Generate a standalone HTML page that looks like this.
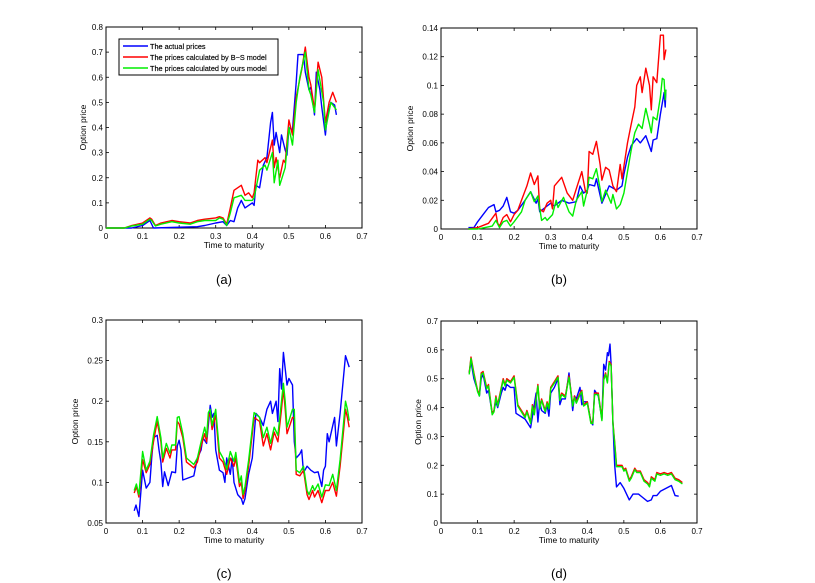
<!DOCTYPE html>
<html><head><meta charset="utf-8"><style>
body{margin:0;background:#fff;width:815px;height:583px;overflow:hidden}
svg{display:block}
text{font-family:"Liberation Sans",sans-serif}
</style></head><body>
<svg id="fig" width="815" height="583"></svg>
<script>
// ---- Panel (a) data ----
const aBlueT=[0,0.07,0.1,0.12,0.13,0.25,0.27,0.3,0.32,0.33,0.34,0.35,0.36,0.37,0.38,0.39,0.4,0.405,0.41,0.42,0.43,0.44,0.45,0.455,0.46,0.465,0.475,0.48,0.49,0.495,0.5,0.51,0.52,0.525,0.54,0.545,0.555,0.56,0.57,0.575,0.585,0.59,0.6,0.605,0.615,0.625,0.63];
const aBlueV=[0,0,0.01,0.03,0,0.005,0.01,0.02,0.025,0.01,0.03,0.025,0.08,0.11,0.08,0.09,0.1,0.09,0.17,0.16,0.25,0.28,0.42,0.46,0.33,0.38,0.3,0.37,0.31,0.29,0.4,0.39,0.58,0.69,0.69,0.62,0.55,0.56,0.45,0.62,0.55,0.48,0.37,0.45,0.5,0.49,0.45];
const aRedT=[0,0.05,0.07,0.1,0.12,0.125,0.135,0.15,0.18,0.2,0.23,0.25,0.27,0.3,0.31,0.32,0.33,0.34,0.35,0.37,0.38,0.39,0.4,0.405,0.415,0.42,0.435,0.44,0.45,0.455,0.46,0.465,0.475,0.485,0.49,0.5,0.51,0.52,0.535,0.545,0.555,0.56,0.57,0.58,0.59,0.6,0.61,0.62,0.63];
const aRedV=[0,0,0.01,0.02,0.04,0.035,0.01,0.02,0.03,0.025,0.02,0.03,0.035,0.04,0.045,0.04,0.015,0.08,0.15,0.17,0.13,0.14,0.12,0.14,0.27,0.26,0.28,0.26,0.32,0.35,0.24,0.28,0.2,0.27,0.26,0.43,0.37,0.52,0.63,0.72,0.6,0.57,0.47,0.66,0.6,0.42,0.5,0.54,0.5];
const aGreenT=[0,0.05,0.07,0.1,0.12,0.125,0.135,0.15,0.18,0.2,0.23,0.25,0.27,0.3,0.31,0.32,0.33,0.34,0.35,0.37,0.38,0.39,0.4,0.405,0.42,0.435,0.44,0.455,0.46,0.47,0.475,0.49,0.5,0.51,0.52,0.53,0.545,0.555,0.56,0.57,0.58,0.595,0.6,0.615,0.63];
const aGreenV=[0,0,0.008,0.015,0.035,0.03,0.008,0.015,0.025,0.02,0.015,0.025,0.03,0.03,0.04,0.035,0.01,0.06,0.12,0.13,0.11,0.11,0.11,0.12,0.23,0.25,0.23,0.3,0.18,0.27,0.17,0.24,0.4,0.33,0.5,0.6,0.7,0.55,0.53,0.46,0.63,0.5,0.39,0.5,0.47];
// ---- Panel (b) data ----
const bBlueT=[0.075,0.09,0.1,0.115,0.13,0.145,0.15,0.16,0.17,0.18,0.19,0.2,0.21,0.23,0.245,0.26,0.265,0.27,0.29,0.3,0.31,0.33,0.35,0.37,0.38,0.39,0.4,0.405,0.42,0.425,0.44,0.46,0.48,0.495,0.5,0.51,0.52,0.535,0.545,0.56,0.575,0.58,0.59,0.6,0.61,0.613,0.615];
const bBlueV=[0.001,0.001,0.005,0.01,0.015,0.017,0.012,0.013,0.016,0.022,0.012,0.011,0.013,0.02,0.026,0.018,0.021,0.012,0.016,0.018,0.016,0.02,0.018,0.019,0.03,0.025,0.027,0.031,0.03,0.035,0.018,0.03,0.027,0.03,0.038,0.05,0.058,0.063,0.06,0.065,0.054,0.062,0.063,0.08,0.095,0.085,0.097];
const bRedT=[0.075,0.1,0.12,0.13,0.15,0.155,0.16,0.17,0.18,0.19,0.2,0.21,0.22,0.235,0.245,0.255,0.265,0.27,0.28,0.29,0.3,0.305,0.31,0.33,0.345,0.36,0.37,0.385,0.395,0.4,0.405,0.415,0.425,0.435,0.44,0.45,0.46,0.47,0.48,0.49,0.495,0.51,0.52,0.53,0.535,0.545,0.55,0.56,0.57,0.575,0.58,0.59,0.6,0.608,0.61,0.615];
const bRedV=[0,0.001,0.003,0.004,0.011,0.004,0.002,0.008,0.01,0.005,0.01,0.013,0.02,0.03,0.039,0.031,0.037,0.014,0.012,0.018,0.02,0.014,0.03,0.036,0.025,0.02,0.028,0.04,0.026,0.025,0.054,0.052,0.061,0.045,0.034,0.043,0.041,0.03,0.026,0.045,0.035,0.06,0.073,0.085,0.1,0.106,0.095,0.112,0.1,0.083,0.106,0.102,0.135,0.135,0.118,0.125];
const bGreenT=[0.075,0.1,0.12,0.14,0.15,0.16,0.17,0.18,0.19,0.2,0.22,0.23,0.245,0.255,0.265,0.275,0.285,0.29,0.305,0.315,0.32,0.335,0.35,0.36,0.37,0.385,0.39,0.4,0.405,0.415,0.425,0.435,0.44,0.45,0.465,0.47,0.48,0.49,0.5,0.51,0.52,0.53,0.54,0.55,0.56,0.57,0.575,0.58,0.59,0.6,0.605,0.61,0.613,0.615];
const bGreenV=[0,0,0.001,0.002,0.006,0.001,0.005,0.006,0.002,0.005,0.012,0.02,0.026,0.019,0.023,0.006,0.008,0.006,0.01,0.02,0.015,0.022,0.012,0.009,0.02,0.026,0.016,0.027,0.036,0.035,0.042,0.028,0.019,0.027,0.018,0.024,0.014,0.017,0.025,0.04,0.055,0.067,0.073,0.07,0.084,0.073,0.067,0.078,0.076,0.092,0.105,0.104,0.09,0.097];
// ---- Panel (c) data ----
const cBlueT=[0.077,0.082,0.09,0.1,0.11,0.12,0.125,0.13,0.14,0.145,0.15,0.155,0.16,0.17,0.18,0.19,0.195,0.2,0.205,0.21,0.24,0.25,0.26,0.265,0.275,0.285,0.29,0.295,0.3,0.31,0.32,0.325,0.33,0.34,0.345,0.35,0.36,0.37,0.375,0.38,0.39,0.4,0.41,0.42,0.43,0.44,0.45,0.455,0.465,0.47,0.475,0.48,0.485,0.49,0.495,0.5,0.51,0.515,0.52,0.53,0.535,0.54,0.55,0.56,0.57,0.58,0.59,0.595,0.6,0.605,0.61,0.625,0.63,0.64,0.655,0.665];
const cBlueV=[0.065,0.072,0.058,0.115,0.093,0.1,0.13,0.155,0.158,0.14,0.125,0.095,0.113,0.096,0.113,0.112,0.145,0.152,0.14,0.103,0.108,0.13,0.14,0.155,0.148,0.195,0.18,0.185,0.14,0.115,0.112,0.1,0.13,0.11,0.13,0.1,0.085,0.08,0.073,0.08,0.11,0.13,0.185,0.18,0.17,0.19,0.2,0.185,0.2,0.175,0.24,0.215,0.26,0.24,0.22,0.228,0.22,0.15,0.13,0.135,0.14,0.112,0.12,0.115,0.112,0.113,0.095,0.115,0.12,0.16,0.15,0.18,0.145,0.185,0.256,0.242];
const cRedT=[0.077,0.083,0.09,0.1,0.11,0.12,0.13,0.14,0.15,0.155,0.165,0.175,0.18,0.19,0.195,0.2,0.21,0.22,0.24,0.25,0.26,0.27,0.275,0.28,0.285,0.29,0.3,0.31,0.32,0.33,0.34,0.35,0.355,0.365,0.37,0.375,0.38,0.39,0.405,0.42,0.43,0.44,0.45,0.46,0.47,0.48,0.485,0.49,0.495,0.51,0.515,0.52,0.53,0.54,0.55,0.555,0.565,0.57,0.58,0.59,0.6,0.61,0.62,0.63,0.64,0.65,0.655,0.66,0.665];
const cRedV=[0.087,0.095,0.082,0.128,0.112,0.122,0.15,0.175,0.15,0.125,0.142,0.13,0.14,0.14,0.175,0.172,0.155,0.125,0.118,0.125,0.145,0.16,0.15,0.18,0.185,0.165,0.183,0.13,0.125,0.11,0.13,0.12,0.13,0.095,0.1,0.08,0.09,0.12,0.18,0.175,0.145,0.16,0.14,0.162,0.15,0.19,0.215,0.19,0.16,0.18,0.18,0.11,0.108,0.115,0.085,0.079,0.09,0.082,0.09,0.075,0.09,0.09,0.1,0.083,0.12,0.165,0.19,0.18,0.168];
const cGreenT=cRedT;
const cGreenV=[0.09,0.098,0.085,0.138,0.115,0.126,0.158,0.181,0.155,0.13,0.148,0.136,0.146,0.146,0.18,0.181,0.16,0.13,0.122,0.13,0.15,0.168,0.156,0.186,0.19,0.17,0.19,0.138,0.13,0.116,0.138,0.126,0.137,0.1,0.108,0.085,0.095,0.127,0.186,0.18,0.155,0.168,0.148,0.168,0.158,0.2,0.222,0.2,0.168,0.19,0.19,0.115,0.112,0.12,0.09,0.085,0.096,0.09,0.098,0.082,0.097,0.096,0.11,0.09,0.128,0.175,0.2,0.19,0.176];
// ---- Panel (d) data ----
const dRedT=[0.077,0.082,0.09,0.095,0.1,0.105,0.11,0.115,0.125,0.13,0.14,0.145,0.15,0.155,0.165,0.17,0.175,0.18,0.19,0.2,0.21,0.23,0.235,0.245,0.25,0.255,0.265,0.27,0.275,0.285,0.29,0.295,0.3,0.31,0.32,0.325,0.33,0.34,0.35,0.36,0.365,0.37,0.38,0.385,0.39,0.4,0.41,0.415,0.42,0.43,0.44,0.445,0.45,0.455,0.46,0.465,0.47,0.475,0.48,0.49,0.495,0.5,0.505,0.515,0.52,0.53,0.535,0.545,0.555,0.565,0.57,0.575,0.585,0.59,0.6,0.61,0.62,0.63,0.64,0.65,0.66];
const dRedV=[0.52,0.575,0.52,0.49,0.46,0.445,0.52,0.525,0.47,0.48,0.38,0.39,0.44,0.41,0.47,0.5,0.48,0.5,0.49,0.51,0.41,0.37,0.39,0.35,0.41,0.38,0.48,0.4,0.43,0.39,0.42,0.4,0.47,0.49,0.51,0.43,0.45,0.44,0.51,0.41,0.44,0.42,0.45,0.46,0.41,0.42,0.35,0.35,0.45,0.45,0.36,0.5,0.52,0.49,0.56,0.55,0.35,0.28,0.2,0.2,0.2,0.185,0.19,0.15,0.16,0.19,0.18,0.18,0.15,0.14,0.13,0.16,0.15,0.175,0.17,0.175,0.17,0.175,0.155,0.15,0.14];
const dGreenT=dRedT;
const dGreenV=[0.515,0.57,0.515,0.485,0.455,0.44,0.515,0.52,0.465,0.475,0.375,0.385,0.435,0.405,0.465,0.495,0.475,0.495,0.485,0.505,0.405,0.365,0.385,0.345,0.405,0.375,0.475,0.395,0.425,0.385,0.415,0.395,0.465,0.485,0.505,0.425,0.445,0.435,0.505,0.405,0.435,0.415,0.445,0.455,0.405,0.415,0.345,0.345,0.445,0.445,0.355,0.495,0.515,0.485,0.555,0.545,0.345,0.275,0.195,0.195,0.195,0.18,0.185,0.145,0.155,0.185,0.175,0.175,0.145,0.135,0.125,0.155,0.145,0.17,0.165,0.17,0.165,0.17,0.15,0.145,0.135];
const dBlueT=[0.077,0.082,0.09,0.095,0.1,0.105,0.11,0.115,0.125,0.13,0.14,0.145,0.15,0.155,0.165,0.17,0.175,0.18,0.19,0.2,0.205,0.23,0.245,0.26,0.265,0.27,0.275,0.285,0.29,0.295,0.3,0.31,0.32,0.325,0.33,0.34,0.35,0.36,0.365,0.37,0.38,0.385,0.39,0.4,0.41,0.415,0.42,0.43,0.44,0.445,0.45,0.455,0.458,0.462,0.465,0.47,0.475,0.48,0.49,0.5,0.515,0.525,0.54,0.55,0.565,0.575,0.58,0.59,0.6,0.615,0.63,0.64,0.65];
const dBlueV=[0.52,0.56,0.5,0.48,0.46,0.44,0.5,0.515,0.45,0.46,0.38,0.39,0.42,0.4,0.45,0.47,0.46,0.48,0.47,0.47,0.38,0.36,0.33,0.45,0.35,0.42,0.39,0.38,0.41,0.37,0.45,0.47,0.5,0.41,0.43,0.43,0.52,0.39,0.44,0.43,0.47,0.41,0.42,0.42,0.35,0.34,0.46,0.44,0.36,0.55,0.53,0.59,0.58,0.62,0.55,0.35,0.2,0.125,0.14,0.12,0.08,0.1,0.1,0.09,0.075,0.08,0.095,0.095,0.11,0.12,0.13,0.095,0.093];
// tick labels
const xTicks=[0,0.1,0.2,0.3,0.4,0.5,0.6,0.7];
const xTickLabels=['0','0.1','0.2','0.3','0.4','0.5','0.6','0.7'];
const aYTicks=[0,0.1,0.2,0.3,0.4,0.5,0.6,0.7,0.8];
const aYLabels=['0','0.1','0.2','0.3','0.4','0.5','0.6','0.7','0.8'];
const bYTicks=[0,0.02,0.04,0.06,0.08,0.1,0.12,0.14];
const bYLabels=['0','0.02','0.04','0.06','0.08','0.1','0.12','0.14'];
const cYTicks=[0.05,0.1,0.15,0.2,0.25,0.3];
const cYLabels=['0.05','0.1','0.15','0.2','0.25','0.3'];
const dYTicks=[0,0.1,0.2,0.3,0.4,0.5,0.6,0.7];
const dYLabels=['0','0.1','0.2','0.3','0.4','0.5','0.6','0.7'];
const legendLabels=['The actual prices','The prices calculated by B\u2212S model','The prices calculated by ours model'];

const NS='http://www.w3.org/2000/svg';
const fig=document.getElementById('fig');
function mk(tag,attrs,parent){const e=document.createElementNS(NS,tag);for(const k in attrs)e.setAttribute(k,attrs[k]);(parent||fig).appendChild(e);return e;}

function panel(id,box,ymin,ymax,yT,yL,series,caption,capX,capY){
  const g=mk('g',{});
  
  
  const [L,T,R,B]=box;
  const sx=v=>L+(v-0)/(0.7)*(R-L);
  const sy=v=>B-(v-ymin)/(ymax-ymin)*(B-T);
  const frame=mk('rect',{x:L,y:T,width:R-L,height:B-T,fill:'#fff',stroke:'#000','stroke-width':1},g);
  
  
  xTicks.forEach((t,i)=>{
    const x=sx(t);
    mk('line',{x1:x,y1:B,x2:x,y2:B-3,stroke:'#000','stroke-width':0.8},g);
    mk('line',{x1:x,y1:T,x2:x,y2:T+3,stroke:'#000','stroke-width':0.8},g);
    const tx=mk('text',{x:x,y:B+11,'font-size':8,'text-anchor':'middle'},g);
    tx.textContent=xTickLabels[i];
    
    
  });
  yT.forEach((t,i)=>{
    const y=sy(t);
    mk('line',{x1:L,y1:y,x2:L+3,y2:y,stroke:'#000','stroke-width':0.8},g);
    mk('line',{x1:R,y1:y,x2:R-3,y2:y,stroke:'#000','stroke-width':0.8},g);
    const tx=mk('text',{x:L-3,y:y+3,'font-size':8,'text-anchor':'end'},g);
    tx.textContent=yL[i];
    
    
  });
  series.forEach(s=>{
    const pts=s.t.map((t,i)=>sx(t).toFixed(1)+','+sy(s.v[i]).toFixed(1)).join(' ');
    const p=mk('polyline',{points:pts,fill:'none',stroke:s.c,'stroke-width':1.4,'stroke-linejoin':'round'},g);
    
    
  });
  const xt=mk('text',{x:(L+R)/2,y:B+20,'font-size':8.5,'text-anchor':'middle'},g);
  xt.textContent='Time to maturity';
  
  
  const yx=L-(ymin===0.05||yL[1].length>3?28:20);
  const yt=mk('text',{x:yx,y:(T+B)/2,'font-size':8.5,'text-anchor':'middle',transform:'rotate(-90 '+yx+' '+((T+B)/2)+')'},g);
  yt.textContent='Option price';
  
  
  const cp=mk('text',{x:capX,y:capY,'font-size':13,'text-anchor':'middle','font-family':'Liberation Serif, serif'},g);
  cp.textContent=caption;
  
  
  return g;
}
const BL='#0000ff',RD='#ff0000',GR='#00ee00';
panel('a',[106,27,362,228],0,0.8,aYTicks,aYLabels,[{t:aBlueT,v:aBlueV,c:BL,n:'actual'},{t:aRedT,v:aRedV,c:RD,n:'bs'},{t:aGreenT,v:aGreenV,c:GR,n:'ours'}],'(a)',224,284);
panel('b',[441,28,697,229],0,0.14,bYTicks,bYLabels,[{t:bBlueT,v:bBlueV,c:BL,n:'actual'},{t:bRedT,v:bRedV,c:RD,n:'bs'},{t:bGreenT,v:bGreenV,c:GR,n:'ours'}],'(b)',559,284);
panel('c',[106,320,362,523],0.05,0.3,cYTicks,cYLabels,[{t:cBlueT,v:cBlueV,c:BL,n:'actual'},{t:cRedT,v:cRedV,c:RD,n:'bs'},{t:cGreenT,v:cGreenV,c:GR,n:'ours'}],'(c)',224,578);
panel('d',[441,321,697,523],0,0.7,dYTicks,dYLabels,[{t:dBlueT,v:dBlueV,c:BL,n:'actual'},{t:dRedT,v:dRedV,c:RD,n:'bs'},{t:dGreenT,v:dGreenV,c:GR,n:'ours'}],'(d)',559,578);

// legend (panel a)
const lg=mk('g',{});


mk('rect',{x:119,y:39,width:159,height:36,fill:'#fff',stroke:'#000','stroke-width':1},lg);
[BL,RD,GR].forEach((c,i)=>{
  const y=46+i*11;
  const ln=mk('line',{x1:123,y1:y,x2:148,y2:y,stroke:c,'stroke-width':1.5},lg);
  
  
  const t=mk('text',{x:150,y:y+3,'font-size':7.3,'stroke':'#000','stroke-width':0.15},lg);
  t.textContent=legendLabels[i];
  
  
});
</script>
</body></html>
